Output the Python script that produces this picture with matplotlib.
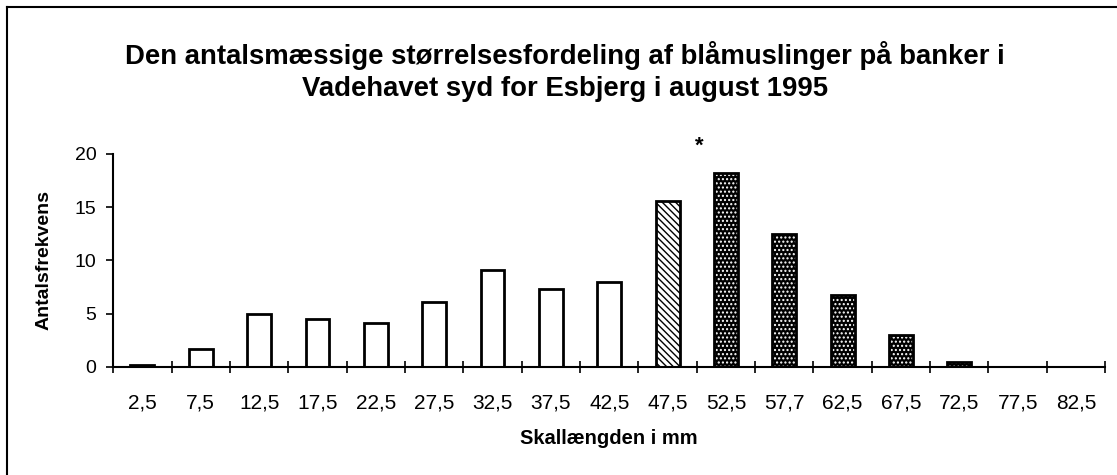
"""
Størrelsesfordeling af blåmuslinger, Vadehavet 1995 - genskabt søjlediagram.
"""

import numpy as np
import matplotlib
matplotlib.use('Agg')
import matplotlib.pyplot as plt
from matplotlib.lines import Line2D

plt.rcParams['font.family'] = ['Liberation Sans', 'DejaVu Sans']
plt.rcParams['hatch.linewidth'] = 1.0

categories = ['2,5', '7,5', '12,5', '17,5', '22,5', '27,5', '32,5', '37,5', '42,5',
              '47,5', '52,5', '57,7', '62,5', '67,5', '72,5', '77,5', '82,5']
counts = [0.15, 1.7, 5.0, 4.5, 4.1, 6.1, 9.05, 7.3, 7.95,
          15.55, 18.2, 12.45, 6.7, 2.95, 0.4, 0.0, 0.0]
fill_kind = ['open'] * 9 + ['stripe'] + ['dots'] * 7
star_pos = 9.55
star_value = 20.7

fig = plt.figure(figsize=(11.17, 4.75), dpi=100)
ax = fig.add_axes([0.1014, 0.228, 0.888, 0.4478])

x = np.arange(len(categories))
w = 0.41
for xi, v, kind in zip(x, counts, fill_kind):
    if kind == 'open':
        ax.bar(xi, v, w, color='white', edgecolor='black', linewidth=2.0, zorder=3)
    elif kind == 'stripe':
        ax.bar(xi, v, w, color='white', edgecolor='black', hatch='\\\\\\\\\\',
               linewidth=0, zorder=3)
        ax.bar(xi, v, w, fill=False, edgecolor='black', linewidth=2.0, zorder=4)
    else:
        if v <= 0:
            continue
        ax.bar(xi, v, w, color='black', edgecolor='white', hatch='....',
               linewidth=0, zorder=3)
        ax.bar(xi, v, w, fill=False, edgecolor='black', linewidth=2.0, zorder=4)

ax.text(star_pos, star_value, '*', ha='center', va='center', fontsize=16,
        fontweight='bold')

ax.set_xlim(-0.5, len(categories) - 0.5)
ax.set_ylim(0, 20)
ax.set_yticks([0, 5, 10, 15, 20])
ax.tick_params(axis='y', direction='out', length=5, width=1.2, labelsize=14, pad=7)

ax.set_xticks(np.arange(-0.5, len(categories), 1))
ax.set_xticklabels([])
ax.set_xticks(x, minor=True)
ax.set_xticklabels(categories, minor=True)
ax.tick_params(axis='x', which='major', direction='inout', length=9, width=1.2)
ax.tick_params(axis='x', which='minor', length=0, labelsize=15, pad=19)

for s in ['top', 'right']:
    ax.spines[s].set_visible(False)
for s in ['left', 'bottom']:
    ax.spines[s].set_linewidth(1.5)
    ax.spines[s].set_zorder(5)

ax.set_ylabel('Antalsfrekvens', fontsize=14, fontweight='bold', labelpad=16)
ax.set_xlabel('Skallængden i mm', fontsize=14.5, fontweight='bold', labelpad=12)

fig.text(0.506, 0.85,
         'Den antalsmæssige størrelsesfordeling af blåmuslinger på banker i\n'
         'Vadehavet syd for Esbjerg i august 1995',
         ha='center', va='center', fontsize=19.8, fontweight='bold', linespacing=1.3)

# frame lines (top and left) of the original chart area
fig.add_artist(Line2D([7 / 1117, 1.0], [1 - 7 / 475, 1 - 7 / 475],
                      transform=fig.transFigure, color='black', lw=1.5))
fig.add_artist(Line2D([7 / 1117, 7 / 1117], [0.0, 1 - 7 / 475],
                      transform=fig.transFigure, color='black', lw=1.5))

fig.savefig('out.png', dpi=100)
plt.close()
